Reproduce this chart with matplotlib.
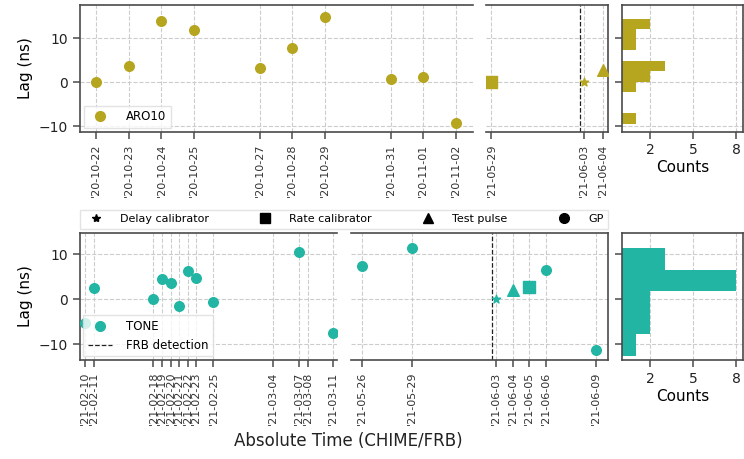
import matplotlib
matplotlib.use("Agg")
import matplotlib.dates as mdates
import matplotlib.pyplot as plt
import pandas as pd
from matplotlib.lines import Line2D

plt.rcParams["font.family"] = ["DejaVu Sans"]

W, H = 744, 459
ARO_COLOR = "#b5a51f"
TONE_COLOR = "#22b5a3"
SPINE = "#4a4a4a"

# ── ARO10 ────────────────────────────────────────────
aro_gp_dates = ["2020-10-22", "2020-10-23", "2020-10-24", "2020-10-25", "2020-10-27",
                "2020-10-28", "2020-10-29", "2020-10-31", "2020-11-01", "2020-11-02"]
aro_gp_lags = [0.0, 3.7, 13.9, 12.0, 3.3, 7.7, 14.8, 0.7, 1.2, -9.3]
aro_rate_dates = ["2021-05-29"]
aro_rate_lags = [0.0]
aro_delay_dates = ["2021-06-03"]
aro_delay_lags = [0.0]
aro_test_dates = ["2021-06-04"]
aro_test_lags = [2.8]
aro_ticks_left = aro_gp_dates
aro_ticks_right = ["2021-05-29", "2021-06-03", "2021-06-04"]
aro_hist_edges = [-9.5, -7.1, -4.7, -2.3, 0.1, 2.5, 4.9, 7.3, 9.7, 12.1, 14.5]
aro_hist_counts = [1, 0, 0, 1, 2, 3, 0, 1, 1, 2]

# ── TONE ─────────────────────────────────────────────
tone_gp_dates = ["2021-02-10", "2021-02-11", "2021-02-18", "2021-02-19", "2021-02-20",
                 "2021-02-21", "2021-02-22", "2021-02-23", "2021-02-25", "2021-03-07",
                 "2021-03-11", "2021-05-26", "2021-05-29", "2021-06-06", "2021-06-09"]
tone_gp_lags = [-5.3, 2.4, 0.0, 4.4, 3.7, -1.5, 6.3, 4.8, -0.5, 10.4,
                -7.4, 7.4, 11.3, 6.4, -11.3]
tone_delay_dates = ["2021-06-03"]
tone_delay_lags = [0.0]
tone_test_dates = ["2021-06-04"]
tone_test_lags = [2.1]
tone_rate_dates = ["2021-06-05"]
tone_rate_lags = [2.8]
tone_ticks_left = ["2021-02-10", "2021-02-11", "2021-02-18", "2021-02-19", "2021-02-20",
                   "2021-02-21", "2021-02-22", "2021-02-23", "2021-02-25", "2021-03-04",
                   "2021-03-07", "2021-03-08", "2021-03-11"]
tone_ticks_right = ["2021-05-26", "2021-05-29", "2021-06-03", "2021-06-04",
                    "2021-06-05", "2021-06-06", "2021-06-09"]
tone_hist_edges = [-12.5, -7.74, -2.98, 1.78, 6.54, 11.3]
tone_hist_counts = [1, 2, 2, 8, 3]

frb_time = "2021-06-02 19:00"


def d(s):
    return pd.to_datetime(s)


def ax_px(fig, x0, x1, y0, y1):
    return fig.add_axes([x0 / W, 1 - y1 / H, (x1 - x0) / W, (y1 - y0) / H])


def style(ax):
    for sp in ax.spines.values():
        sp.set_color(SPINE)
        sp.set_linewidth(1.2)
    ax.tick_params(color=SPINE, width=1.1, length=5, labelsize=10, labelcolor="#222")
    ax.grid(True, linestyle="--", color="#cccccc", linewidth=0.8)
    ax.set_axisbelow(True)


def date_axis(ax, ticks, lo, hi):
    ax.set_xticks([d(t) for t in ticks])
    ax.xaxis.set_major_formatter(mdates.DateFormatter("'%y-%m-%d"))
    ax.tick_params(axis="x", labelrotation=90, labelsize=8, labelcolor="#333")
    ax.set_xlim(d(ticks[0]) - pd.Timedelta(days=lo), d(ticks[-1]) + pd.Timedelta(days=hi))


fig = plt.figure(figsize=(W / 100, H / 100), dpi=100)

# ── 上排：ARO10 ─────────────────────────────────────
axA1 = ax_px(fig, 80, 473, 5, 131.5)
axA2 = ax_px(fig, 486, 608.3, 5, 131.5)
axA3 = ax_px(fig, 621.7, 743.3, 5, 131.5)
# ── 下排：TONE ──────────────────────────────────────
axB1 = ax_px(fig, 79.7, 337.3, 232.7, 360)
axB2 = ax_px(fig, 350.7, 608.3, 232.7, 360)
axB3 = ax_px(fig, 621.7, 743.3, 232.7, 360)

rows = [
    (axA1, axA2, axA3, ARO_COLOR, (-11.2, 17.6),
     aro_gp_dates, aro_gp_lags,
     [(aro_delay_dates, aro_delay_lags), (aro_rate_dates, aro_rate_lags), (aro_test_dates, aro_test_lags)],
     aro_ticks_left, aro_ticks_right, (0.49, 0.52), (0.29, 0.30),
     aro_hist_edges, aro_hist_counts, "ARO10"),
    (axB1, axB2, axB3, TONE_COLOR, (-13.5, 14.8),
     tone_gp_dates, tone_gp_lags,
     [(tone_delay_dates, tone_delay_lags), (tone_rate_dates, tone_rate_lags), (tone_test_dates, tone_test_lags)],
     tone_ticks_left, tone_ticks_right, (0.62, 0.47), (0.69, 0.73),
     tone_hist_edges, tone_hist_counts, "TONE"),
]

cal_markers = [("*", 38), ("s", 70), ("^", 70)]

for (a1, a2, a3, col, ylim, gd, gl, cals, tl, tr, pl, pr, edges, counts, name) in rows:
    for ax in (a1, a2, a3):
        style(ax)
        ax.set_ylim(*ylim)
        ax.set_yticks([-10, 0, 10])
    gp_dt = [d(t) for t in gd]
    for ax in (a1, a2):
        ax.scatter(gp_dt, gl, s=48, color=col, marker="o", zorder=3)
        for (cd, cl), (m, s) in zip(cals, cal_markers):
            ax.scatter([d(t) for t in cd], cl, s=s, color=col, marker=m, zorder=3)
        ax.axvline(d(frb_time), color="#222", linestyle="--", linewidth=0.9, zorder=2)
    date_axis(a1, tl, *pl)
    date_axis(a2, tr, *pr)
    a1.spines["right"].set_visible(False)
    a2.spines["left"].set_visible(False)
    a2.tick_params(axis="y", left=False, labelleft=False)
    a1.set_ylabel("Lag (ns)", fontsize=11)

    # 直方圖
    heights = [edges[i + 1] - edges[i] for i in range(len(counts))]
    a3.barh(edges[:-1], counts, height=heights, align="edge", color=col, zorder=2)
    a3.set_xlim(0, 8.5)
    a3.set_xticks([2, 5, 8])
    a3.tick_params(axis="y", labelleft=False)
    a3.set_xlabel("Counts", fontsize=11, labelpad=2)

    hs = [Line2D([], [], marker="o", color=col, linestyle="none", markersize=7)]
    ls = [name]
    if name == "TONE":
        hs.append(Line2D([], [], color="#222", linestyle="--", linewidth=0.9))
        ls.append("FRB detection")
    a1.legend(hs, ls, loc="lower left", fontsize=8.5, borderaxespad=0.3,
              handletextpad=1.2, framealpha=0.8, fancybox=False, edgecolor="#dddddd")

# ── 標記圖例 ─────────────────────────────────────────
kinds = [("*", "Delay calibrator"), ("s", "Rate calibrator"), ("^", "Test pulse"), ("o", "GP")]
handles = [Line2D([], [], marker=m, color="black", linestyle="none",
                  markersize=6 if m == "*" else 7) for m, _ in kinds]
fig.legend(handles, [k for _, k in kinds], loc="lower left",
           bbox_to_anchor=(80 / W, 1 - 228.5 / H, 528 / W, 21 / H),
           ncol=4, mode="expand", borderaxespad=0, fontsize=8, handletextpad=1.2,
           fancybox=False, edgecolor="#dddddd")

fig.text(348 / W, 1 - 441 / H, "Absolute Time (CHIME/FRB)", ha="center", va="center",
         fontsize=12, color="#222")

fig.savefig("out.png", dpi=100)
